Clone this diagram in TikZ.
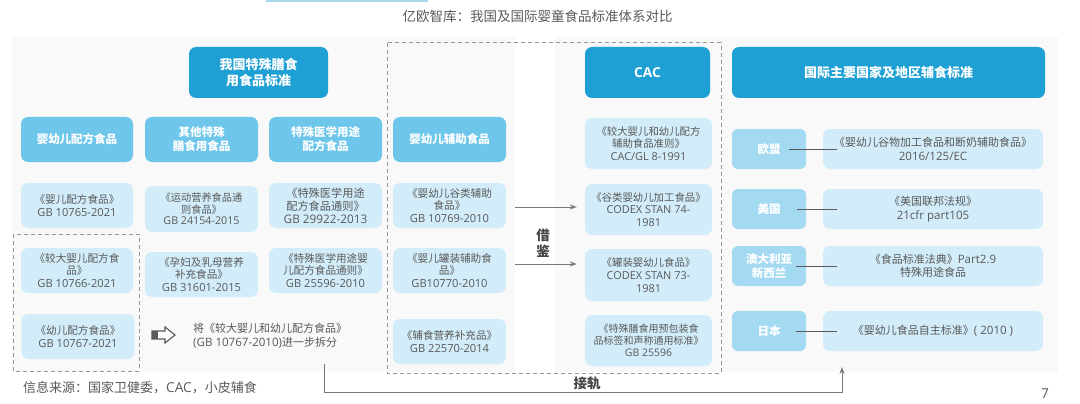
\documentclass[tikz,border=0pt]{standalone}
\usepackage{fontspec}
\setmainfont{Noto Sans CJK SC}
\newfontfamily\ltfont[Scale=1.05]{Open Sans}
\usetikzlibrary{arrows.meta}
\definecolor{hdark}{RGB}{31,160,212}
\definecolor{hcat}{RGB}{110,199,235}
\definecolor{hcountry}{RGB}{163,218,242}
\definecolor{itemc}{RGB}{210,237,249}
\definecolor{panelc}{RGB}{249,249,249}
\definecolor{txtg}{RGB}{89,89,89}
\definecolor{lineg}{RGB}{120,120,120}
\definecolor{dashg}{RGB}{150,150,150}
\definecolor{topbar}{RGB}{168,216,238}
\newcommand{\lat}[1]{{\ltfont #1}}
\tikzset{
  hdr/.style={fill=hdark, rounded corners=7pt, text=white, align=center, inner sep=0pt,
    font=\fontsize{13}{16}\selectfont\bfseries, minimum height=51pt},
  cat/.style={fill=hcat, rounded corners=7pt, text=white, align=center, inner sep=0pt,
    font=\fontsize{11.5}{14}\selectfont\bfseries, minimum width=112pt, minimum height=45pt},
  ctry/.style={fill=hcountry, rounded corners=6pt, text=white, align=center, inner sep=0pt,
    font=\fontsize{11.5}{14}\selectfont\bfseries, minimum width=74pt, minimum height=40pt},
  item/.style={fill=itemc, rounded corners=7pt, text=txtg, align=center, inner sep=0pt,
    font=\fontsize{10.6}{12.5}\selectfont, minimum width=112pt, minimum height=45pt},
  citem/.style={item, font=\fontsize{10.4}{12.8}\selectfont, minimum width=127pt, minimum height=51pt},
  sitem/.style={item, font=\fontsize{11}{13.5}\selectfont, minimum width=220pt, minimum height=40pt},
  dbox/.style={draw=dashg, line width=1pt, dash pattern=on 4pt off 3pt},
  conn/.style={draw=txtg, line width=1pt},
  arr/.style={draw=lineg, line width=1pt, -{Stealth[length=7pt,width=5pt]}},
  lbl/.style={text=txtg!80!black, font=\fontsize{13.5}{16}\selectfont\bfseries, inner sep=0pt, align=center},
}
\begin{document}
\begin{tikzpicture}[x=1pt,y=-1pt]
\useasboundingbox (0,0) rectangle (1080,404);
% top bar and title
\fill[topbar] (266,0) rectangle (428,2);
\node[text=txtg, font=\fontsize{13.5}{16}\selectfont, inner sep=0pt] (title) at (537.5,16) {亿欧智库：我国及国际婴童食品标准体系对比};
% panels
\fill[panelc] (12,37) rectangle (515,372);
\fill[panelc] (555,37) rectangle (1058,372);
% dashed boxes
\draw[dbox] (387,43) rectangle (721,373);
\draw[dbox] (13,234) rectangle (139,371);
% headers
\node[hdr, minimum width=139pt] (hcn) at (258.5,72.5) {我国特殊膳食\\用食品标准};
\node[hdr, minimum width=125pt] (hcac) at (647.5,72.5) {\lat{CAC}};
\node[hdr, minimum width=313pt] (hint) at (888.5,72.5) {国际主要国家及地区辅食标准};
% categories
\node[cat] (c1) at (77,139.5) {婴幼儿配方食品};
\node[cat, minimum width=113pt] (c2) at (201.5,139.5) {其他特殊\\膳食用食品};
\node[cat, minimum width=113pt] (c3) at (325.5,139.5) {特殊医学用途\\配方食品};
\node[cat, minimum width=113pt] (c4) at (449.5,139.5) {婴幼儿辅助食品};
% row 1
\node[item] (a1) at (77,205.5) {《婴儿配方食品》\\\lat{GB 10765-2021}};
\node[item, minimum width=113pt, minimum height=46pt, font=\fontsize{10.2}{11.3}\selectfont] (b1) at (201.5,209) {《运动营养食品通\\则食品》\\\lat{GB 24154-2015}};
\node[item, minimum width=113pt, font=\fontsize{11.2}{13}\selectfont] (m1) at (325.5,205.5) {《特殊医学用途\\配方食品通则》\\\lat{GB 29922-2013}};
\node[item, minimum width=113pt] (f1) at (449.5,205.5) {《婴幼儿谷类辅助\\食品》\\\lat{GB 10769-2010}};
% row 2
\node[item] (a2) at (77,270.5) {《较大婴儿配方食\\品》\\\lat{GB 10766-2021}};
\node[item, minimum width=113pt] (b2) at (201.5,274.5) {《孕妇及乳母营养\\补充食品》\\\lat{GB 31601-2015}};
\node[item, minimum width=113pt] (m2) at (325.5,270.5) {《特殊医学用途婴\\儿配方食品通则》\\\lat{GB 25596-2010}};
\node[item, minimum width=113pt] (f2) at (449.5,270.5) {《婴儿罐装辅助食\\品》\\\lat{GB10770-2010}};
% row 3
\node[item, minimum width=113pt] (a3) at (78,336.5) {《幼儿配方食品》\\\lat{GB 10767-2021}};
\node[item, minimum width=113pt] (f3) at (449.5,341.5) {《辅食营养补充品》\\\lat{GB 22570-2014}};
% hollow arrow and note
\draw[draw=txtg, line width=1.1pt, fill=white, line join=miter] (152,331) -- (165,331) -- (165,327) -- (175,335) -- (165,343) -- (165,339) -- (152,339) -- cycle;
\fill[txtg] (152,331) rectangle (158,339);
\node[anchor=west, align=left, text=txtg, font=\fontsize{11}{14}\selectfont, inner sep=0pt] (note) at (193,336) {将《较大婴儿和幼儿配方食品》\\\lat{(GB 10767-2010)}进一步拆分};
% CAC items
\node[citem] (k1) at (648.5,143.5) {《较大婴儿和幼儿配方\\辅助食品准则》\\\lat{CAC/GL 8-1991}};
\node[citem] (k2) at (648.5,209.5) {《谷类婴幼儿加工食品》\\\lat{CODEX STAN 74-}\\\lat{1981}};
\node[citem, minimum height=52pt] (k3) at (648.5,275) {《罐装婴幼儿食品》\\\lat{CODEX STAN 73-}\\\lat{1981}};
\node[citem, font=\fontsize{10}{12}\selectfont] (k4) at (648.5,340.5) {《特殊膳食用预包装食\\品标签和声称通用标准》\\\lat{GB 25596}};
% borrow arrows
\draw[arr, shorten <=9pt, shorten >=8pt] ([yshift=-1.5pt]f1.east) -- ([yshift=-1.5pt]f1.east -| k2.west);
\draw[arr, shorten <=9pt, shorten >=8pt] ([yshift=6.5pt]f2.east) -- ([yshift=6.5pt]f2.east -| k3.west);
\node[lbl] (jj) at (543,243.5) {借\\鉴};
% countries and standards
\node[ctry] (eu) at (769,149) {欧盟};
\node[ctry] (us) at (769,209) {美国};
\node[ctry] (au) at (769,266) {澳大利亚\\新西兰};
\node[ctry] (jp) at (769,331) {日本};
\node[sitem] (seu) at (933,149) {《婴幼儿谷物加工食品和断奶辅助食品》\\\lat{2016/125/EC}};
\node[sitem] (sus) at (933,209) {《美国联邦法规》\\\lat{21cfr part105}};
\node[sitem] (sau) at (933,266) {《食品标准法典》\lat{Part2.9}\\特殊用途食品};
\node[sitem] (sjp) at (933,331) {《婴幼儿食品自主标准》\lat{( 2010 )}};
\draw[conn] ([xshift=-17pt]eu.east) -- ([xshift=14pt]seu.west);
\draw[conn] ([xshift=-9pt]us.east) -- ([xshift=14pt]sus.west);
\draw[conn] ([xshift=-10pt]au.east) -- ([xshift=14pt]sau.west);
\draw[conn] ([xshift=-10pt]jp.east) -- ([xshift=14pt]sjp.west);
% bottom connector
\coordinate (js) at (324,364);
\coordinate (je) at (842,367);
\draw[arr] (js) -- (js |- 0,392) -- (je |- 0,392) -- (je);
\node[lbl] (jg) at (587,383) {接轨};
% footer
\node[anchor=west, text=txtg, font=\fontsize{13}{15}\selectfont, inner sep=0pt] (src) at (23,388) {信息来源：国家卫健委，\lat{CAC}，小皮辅食};
\node[text=txtg, font=\fontsize{13}{15}\selectfont, inner sep=0pt] (pg) at (1045,394) {\lat{7}};
\end{tikzpicture}
\end{document}
